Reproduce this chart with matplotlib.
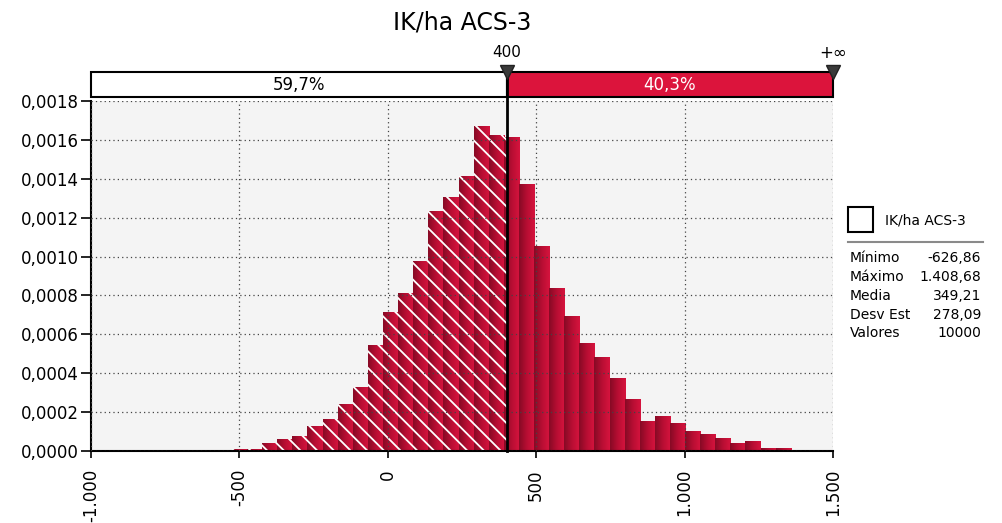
import numpy as np
import matplotlib
matplotlib.use("Agg")
import matplotlib.pyplot as plt
from matplotlib.patches import Rectangle
from matplotlib.colors import LinearSegmentedColormap
import matplotlib.transforms as mtransforms

# ---------------- data ----------------
title = "IK/ha ACS-3"
x_min = -626.86
x_max = 1408.68
n_bins = 40
density = [0.000003, 0.000005, 0.000008, 0.000008, 0.000041, 0.000060, 0.000075, 0.000130,
           0.000166, 0.000242, 0.000327, 0.000546, 0.000713, 0.000812, 0.000975, 0.001235,
           0.001304, 0.001415, 0.001669, 0.001626, 0.001617, 0.001373, 0.001052, 0.000836,
           0.000694, 0.000555, 0.000486, 0.000373, 0.000269, 0.000156, 0.000181, 0.000144,
           0.000103, 0.000085, 0.000068, 0.000043, 0.000051, 0.000015, 0.000015, 0.000005]
split_value = 400
split_label = "400"
right_label = "+\u221e"
pct_left = "59,7%"
pct_right = "40,3%"
stat_names = ["Mínimo", "Máximo", "Media", "Desv Est", "Valores"]
stat_values = ["-626,86", "1.408,68", "349,21", "278,09", "10000"]
x_ticks = [-1000, -500, 0, 500, 1000, 1500]
x_tick_labels = ["-1.000", "-500", "0", "500", "1.000", "1.500"]
y_ticks = [0.0, 0.0002, 0.0004, 0.0006, 0.0008, 0.0010, 0.0012, 0.0014, 0.0016, 0.0018]
y_tick_labels = ["0,0000", "0,0002", "0,0004", "0,0006", "0,0008", "0,0010",
                 "0,0012", "0,0014", "0,0016", "0,0018"]

# ---------------- style ----------------
plt.rcParams["font.family"] = ["DejaVu Sans"]
plt.rcParams["hatch.color"] = "white"
plt.rcParams["hatch.linewidth"] = 1.3

W, H = 1002, 523
fig = plt.figure(figsize=(W / 100, H / 100), dpi=100)
fig.patch.set_facecolor("white")
ax = fig.add_axes([91 / W, 72 / H, 742 / W, 350 / H])
ax.set_facecolor("#F4F4F4")

crimson = "#DC143C"
cmap = LinearSegmentedColormap.from_list("barshade", ["#870a25", "#b80e33", "#d6143e"])
grad = np.linspace(0, 1, 64).reshape(1, -1)

edges = np.linspace(x_min, x_max, n_bins + 1)
lefts = edges[:-1]
widths = np.diff(edges)

bars = ax.bar(lefts, density, width=widths, align="edge", color="none", linewidth=0, zorder=1)
for b in bars:
    x0, w, h = b.get_x(), b.get_width(), b.get_height()
    im = ax.imshow(grad, cmap=cmap, extent=[x0, x0 + w, 0, h], aspect="auto",
                   interpolation="bilinear", zorder=2)
    im.set_clip_path(b)

# hatched part (left of split)
hl, hw, hh = [], [], []
for l, w, d in zip(lefts, widths, density):
    if l < split_value:
        hl.append(l)
        hw.append(min(l + w, split_value) - l)
        hh.append(d)
ax.bar(hl, hh, width=hw, align="edge", facecolor="none", hatch="\\\\", linewidth=0, zorder=2.2)

ax.set_xlim(x_ticks[0], x_ticks[-1])
ax.set_ylim(y_ticks[0], y_ticks[-1])
ax.set_xticks(x_ticks)
ax.set_xticklabels(x_tick_labels, rotation=90, fontsize=12)
ax.set_yticks(y_ticks)
ax.set_yticklabels(y_tick_labels, fontsize=12)
ax.tick_params(axis="y", length=7, width=1.2, pad=2, direction="out")
ax.tick_params(axis="x", length=5, width=1.2, pad=8, direction="out")
for lab in ax.get_xticklabels():
    lab.set_verticalalignment("top")

ax.set_axisbelow(False)
ax.grid(True, color="#444444", linestyle=(0, (1, 2.5)), linewidth=0.9)
ax.spines["top"].set_visible(False)
ax.spines["right"].set_visible(False)
ax.spines["left"].set_linewidth(1.5)
ax.spines["bottom"].set_linewidth(1.5)

# ---------------- probability band ----------------
blend = mtransforms.blended_transform_factory(ax.transData, ax.transAxes)
band_y0 = (451 - 97) / 350
band_h = (97 - 72) / 350
ax.add_patch(Rectangle((x_ticks[0], band_y0), split_value - x_ticks[0], band_h, transform=blend,
                       facecolor="white", edgecolor="black", linewidth=1.5, clip_on=False, zorder=6))
ax.add_patch(Rectangle((split_value, band_y0), x_ticks[-1] - split_value, band_h, transform=blend,
                       facecolor=crimson, edgecolor="black", linewidth=1.5, clip_on=False, zorder=6))
mid_y = band_y0 + band_h / 2
ax.text((x_ticks[0] + split_value) / 2, mid_y, pct_left, transform=blend, ha="center", va="center",
        fontsize=12, color="black", zorder=7)
ax.text((split_value + x_ticks[-1]) / 2, mid_y, pct_right, transform=blend, ha="center", va="center",
        fontsize=12, color="white", zorder=7)

ax.plot([split_value, split_value], [0, (451 - 72) / 350], transform=blend, color="black",
        linewidth=2, clip_on=False, zorder=8)
tri_y = (451 - 71.5) / 350
for xv in (split_value, x_ticks[-1]):
    ax.plot([xv], [tri_y], transform=blend, marker="v", markersize=10, color="#3a3a3a",
            markeredgecolor="#222222", clip_on=False, zorder=9)
lab_y = (451 - 53) / 350
ax.text(split_value, lab_y, split_label, transform=blend, ha="center", va="center", fontsize=11)
ax.text(x_ticks[-1], lab_y, right_label, transform=blend, ha="center", va="center", fontsize=12)

# ---------------- title ----------------
fig.text(462 / W, 1 - 22 / H, title, ha="center", va="center", fontsize=17)

# ---------------- legend / stats ----------------
fig.patches.append(Rectangle((848 / W, 1 - 232 / H), 25 / W, 25 / H, transform=fig.transFigure,
                             facecolor="white", edgecolor="black", linewidth=1.5))
fig.text(885 / W, 1 - 220 / H, title, ha="left", va="center", fontsize=10)
fig.add_artist(plt.Line2D([848 / W, 983 / W], [1 - 242 / H, 1 - 242 / H], transform=fig.transFigure,
                          color="#8a8a8a", linewidth=1.5))
for i, (nm, val) in enumerate(zip(stat_names, stat_values)):
    yy = 1 - (258.5 + 18.7 * i) / H
    fig.text(850 / W, yy, nm, ha="left", va="center", fontsize=10)
    fig.text(981 / W, yy, val, ha="right", va="center", fontsize=10)

fig.savefig("out.png", dpi=100, facecolor="white")
